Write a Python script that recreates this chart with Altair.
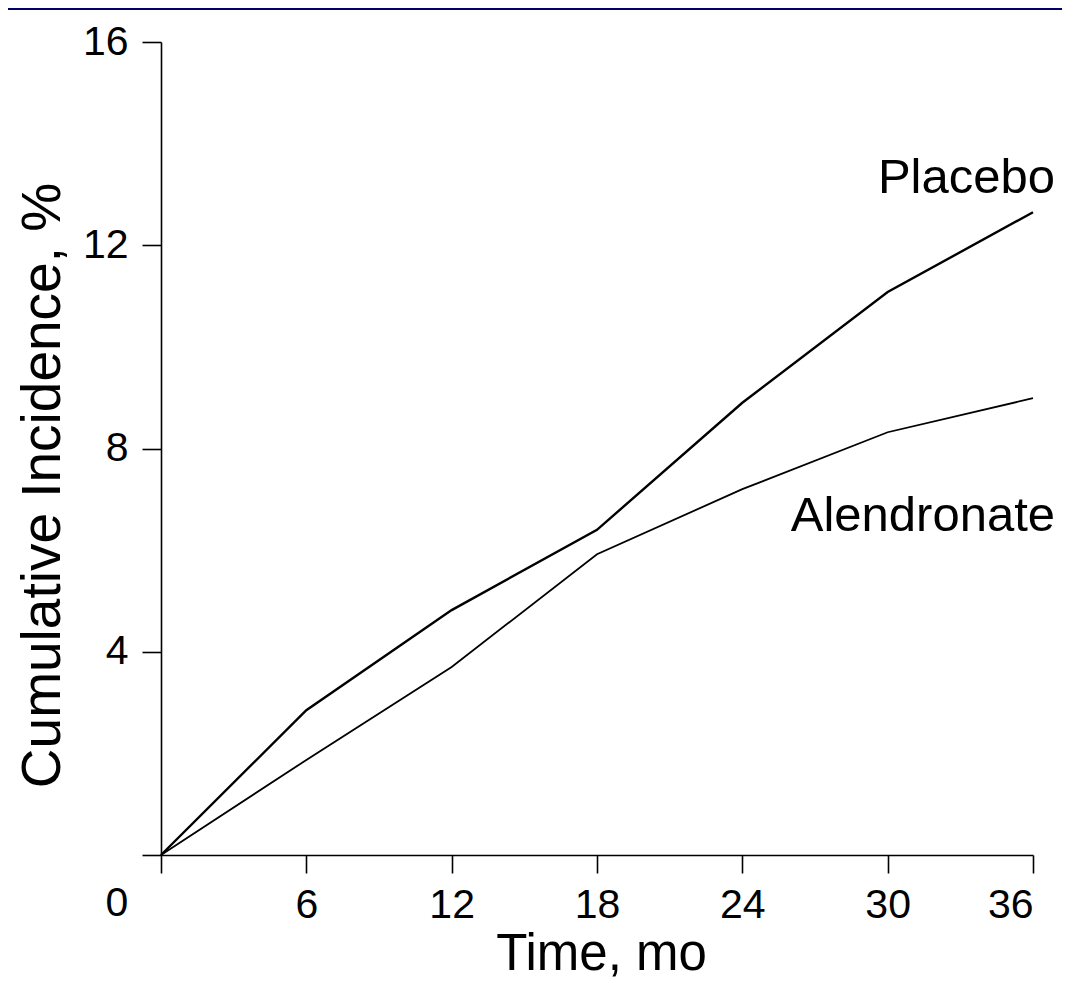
import altair as alt
import pandas as pd

# ---- data ----
months = [0, 6, 12, 18, 24, 30, 36]
placebo = [0, 2.85, 4.82, 6.40, 8.90, 11.08, 12.65]
alendronate = [0, 1.87, 3.70, 5.92, 7.20, 8.32, 8.99]
series = ["Placebo", "Alendronate"]
line_widths = [2.4, 1.8]
label_x = [36, 36]
label_y = [13.03, 6.38]
x_ticks = [0, 6, 12, 18, 24, 30, 36]
y_ticks = [0, 4, 8, 12, 16]

FONT = "Liberation Sans"
FS = 41      # tick labels
FS_X = 51    # x axis title
FS_Y = 55    # y axis title
FS_A = 49    # series annotations

df = pd.DataFrame({
    "month": months + months,
    "value": placebo + alendronate,
    "group": [series[0]] * len(months) + [series[1]] * len(months),
})
lab = pd.DataFrame({"month": label_x, "value": label_y, "group": series})
zero = pd.DataFrame({"month": [0], "value": [0], "txt": ["0"]})

x_scale = alt.Scale(domain=[0, 36], nice=False, zero=False)
y_scale = alt.Scale(domain=[0, 16], nice=False)

lines = alt.Chart(df).mark_line(color="black").encode(
    x=alt.X("month:Q", scale=x_scale,
            axis=alt.Axis(values=x_ticks, title="Time, mo",
                          labelExpr="datum.value == 0 ? '' : datum.label",
                          tickSize=18, labelPadding=12,
                          titleX=440, titleY=99, titleBaseline="middle",
                          titleAnchor="middle", titleFontSize=FS_X)),
    y=alt.Y("value:Q", scale=y_scale,
            axis=alt.Axis(values=y_ticks, title="Cumulative Incidence, %",
                          labelExpr="datum.value == 0 ? '' : datum.label",
                          tickSize=19, labelPadding=14,
                          titleX=-119, titleY=443, titleAngle=-90,
                          titleBaseline="middle", titleAlign="center",
                          titleFontSize=FS_Y)),
    detail="group:N",
    strokeWidth=alt.StrokeWidth("group:N",
                                scale=alt.Scale(domain=series, range=line_widths),
                                legend=None),
)

labels = alt.Chart(lab).mark_text(
    align="right", baseline="alphabetic", dx=22, font=FONT, fontSize=FS_A, color="black"
).encode(
    x=alt.X("month:Q", scale=x_scale),
    y=alt.Y("value:Q", scale=y_scale),
    text="group:N",
)

zero_lab = alt.Chart(zero).mark_text(
    align="center", baseline="middle", dx=-44, dy=49, font=FONT, fontSize=FS, color="black"
).encode(
    x=alt.X("month:Q", scale=x_scale),
    y=alt.Y("value:Q", scale=y_scale),
    text="txt:N",
)

# thin navy band along the top edge (slide frame)
band = alt.Chart(zero).mark_rect(color="#000066").encode(
    x=alt.value(-153), x2=alt.value(901), y=alt.value(-34), y2=alt.value(-32)
)

chart = alt.layer(band, lines, labels, zero_lab).properties(
    width=872, height=813,
    autosize=alt.AutoSizeParams(type="none"),
    padding={"left": 153, "top": 34, "right": 29, "bottom": 124},
    background="white",
).configure_view(stroke=None).configure_axis(
    grid=False,
    domainColor="black", domainWidth=1.6,
    tickColor="black", tickWidth=1.6,
    labelFont=FONT, labelFontSize=FS, labelColor="black",
    titleFont=FONT, titleColor="black", titleFontWeight="normal",
)

chart.save("out.html", embed_options={"renderer": "svg", "actions": False})
